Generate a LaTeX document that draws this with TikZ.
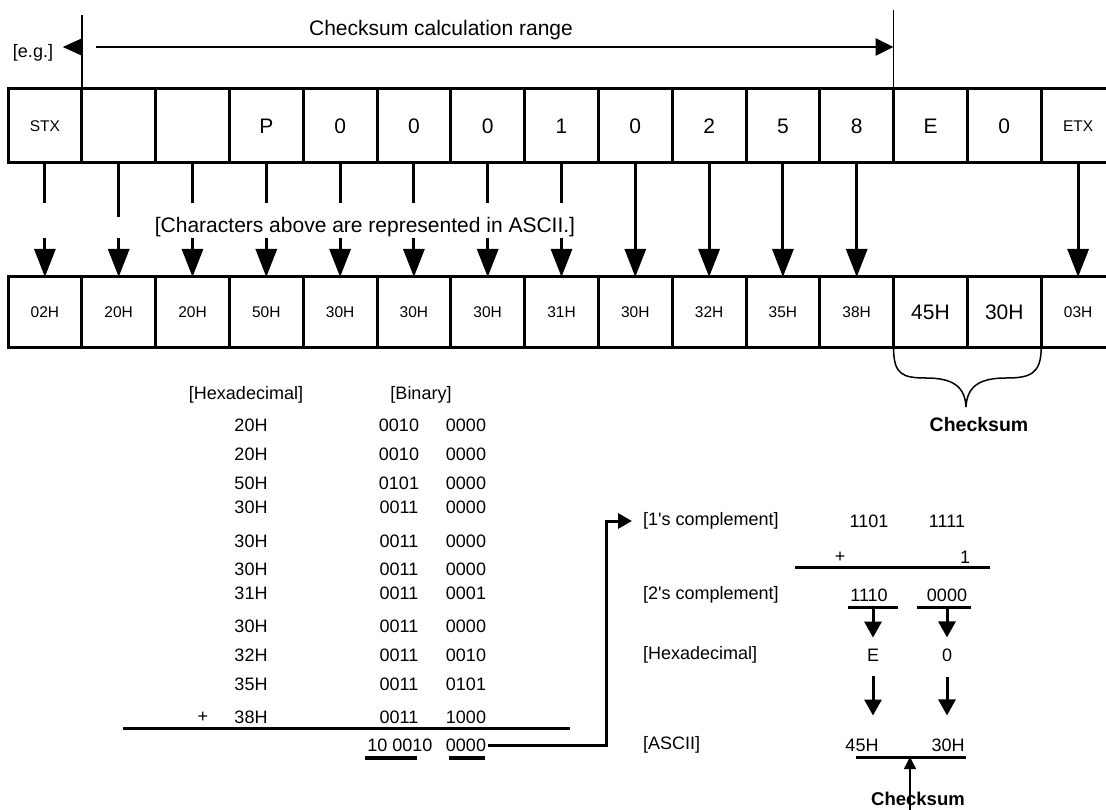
\documentclass[tikz,border=0pt]{standalone}
\usepackage{fontspec}
\setmainfont{Liberation Sans}
\usetikzlibrary{arrows.meta}
\usetikzlibrary{positioning}

\begin{document}
\begin{tikzpicture}[x=1pt, y=-1pt, node distance=0pt]
\tikzstyle{cell} = [rectangle, draw = black, line width=3pt, minimum width=73.8pt, minimum height=74pt, inner sep=0pt, outer sep=0pt, font=\fontsize{21}{25}\selectfont]
\tikzstyle{bcell} = [cell, minimum height=71pt, font=\fontsize{15.5}{18}\selectfont]
\tikzstyle{ctl} = [font=\fontsize{15.5}{18}\selectfont]
\tikzstyle{big} = [font=\fontsize{21}{25}\selectfont]
\tikzstyle{lbl} = [inner sep=2pt, font=\fontsize{18}{21}\selectfont]
\tikzstyle{heavy} = [inner sep=1pt, font=\fontsize{19.5}{22}\selectfont\bfseries]
\tikzstyle{shaft} = [line width=3pt]
\tikzstyle{down} = [line width=3pt, -{Triangle[length=28pt, width=21pt]}]
\tikzstyle{small} = [line width=3pt, -{Triangle[length=16pt, width=17pt]}]
\tikzstyle{rule} = [line width=3pt]
\useasboundingbox (0,0) rectangle (1106,810);

% frame as sent
\node (t1) [cell, ctl] at (44.9,126) {STX};
\node (t2) [cell, right = of t1] {};
\node (t3) [cell, right = of t2] {};
\node (t4) [cell, right = of t3] {P};
\node (t5) [cell, right = of t4] {0};
\node (t6) [cell, right = of t5] {0};
\node (t7) [cell, right = of t6] {0};
\node (t8) [cell, right = of t7] {1};
\node (t9) [cell, right = of t8] {0};
\node (t10) [cell, right = of t9] {2};
\node (t11) [cell, right = of t10] {5};
\node (t12) [cell, right = of t11] {8};
\node (t13) [cell, right = of t12] {E};
\node (t14) [cell, right = of t13] {0};
\node (t15) [cell, ctl, right = of t14] {ETX};

% same frame in ASCII codes
\node (b1) [bcell] at (44.9,312.5) {02H};
\node (b2) [bcell, right = of b1] {20H};
\node (b3) [bcell, right = of b2] {20H};
\node (b4) [bcell, right = of b3] {50H};
\node (b5) [bcell, right = of b4] {30H};
\node (b6) [bcell, right = of b5] {30H};
\node (b7) [bcell, right = of b6] {30H};
\node (b8) [bcell, right = of b7] {31H};
\node (b9) [bcell, right = of b8] {30H};
\node (b10) [bcell, right = of b9] {32H};
\node (b11) [bcell, right = of b10] {35H};
\node (b12) [bcell, right = of b11] {38H};
\node (b13) [bcell, big, right = of b12] {45H};
\node (b14) [bcell, big, right = of b13] {30H};
\node (b15) [bcell, right = of b14] {03H};

% calculation range
\coordinate (rangey) at (0,47);
\coordinate (rangeL) at ([xshift=14pt]t1.north east);
\draw[line width=1.5pt] (t1.north east) -- ++(0,-74);
\draw[line width=1.5pt] (t12.north east) -- ++(0,-79);
\draw[line width=2.5pt, -{Triangle[length=18pt, width=17pt]}] (rangeL |- rangey) -- (t12.north east |- rangey);
\draw[line width=1pt, -{Triangle[length=19pt, width=17pt]}] (t1.north east |- rangey) -- ++(-19,0);
\node (range) [big] at (441,30) {Checksum calculation range};
\node (eg) [lbl] at (33,53) {[e.g.]};

% arrows between the rows
\coordinate (stubend) at (0,203);
\coordinate (stublong) at (0,217);
\coordinate (tipstart) at (0,238);
\draw[shaft] (t1) -- (t1 |- stubend);
\draw[shaft] (t2) -- (t2 |- stublong);
\draw[shaft] (t3) -- (t3 |- stubend);
\draw[shaft] (t4) -- (t4 |- stubend);
\draw[shaft] (t5) -- (t5 |- stubend);
\draw[shaft] (t6) -- (t6 |- stubend);
\draw[shaft] (t7) -- (t7 |- stubend);
\draw[shaft] (t8) -- (t8 |- stubend);
\draw[down] (b1 |- tipstart) -- (b1);
\draw[down] (b2 |- tipstart) -- (b2);
\draw[down] (b3 |- tipstart) -- (b3);
\draw[down] (b4 |- tipstart) -- (b4);
\draw[down] (b5 |- tipstart) -- (b5);
\draw[down] (b6 |- tipstart) -- (b6);
\draw[down] (b7 |- tipstart) -- (b7);
\draw[down] (b8 |- tipstart) -- (b8);
\draw[down] (t9) -- (b9);
\draw[down] (t10) -- (b10);
\draw[down] (t11) -- (b11);
\draw[down] (t12) -- (b12);
\draw[down] (t15) -- (b15);
\node (note) [big] at (365,227) {[Characters above are represented in ASCII.]};

% brace under the checksum
\coordinate (bracetip) at (966,407);
\draw[line width=1.5pt] (b13.south west) .. controls +(0,26) and (902,378) .. (926,378) .. controls (952,378) and (965,386) .. (bracetip) .. controls (967,386) and (980,378) .. (1006,378) .. controls (1030,378) and (1041,374) .. (b14.south east);
\node (ck1) [heavy] at (979,425) {Checksum};

% sum of the range
\node (hexhead) [lbl] at (246,395) {[Hexadecimal]};
\node (binhead) [lbl] at (421,395) {[Binary]};
\node (h1) [lbl] at (251,425) {20H}; \node (ba1) [lbl] at (399,425) {0010}; \node (bb1) [lbl] at (466,425) {0000};
\node (h2) [lbl] at (251,454) {20H}; \node (ba2) [lbl] at (399,454) {0010}; \node (bb2) [lbl] at (466,454) {0000};
\node (h3) [lbl] at (251,483) {50H}; \node (ba3) [lbl] at (399,483) {0101}; \node (bb3) [lbl] at (466,483) {0000};
\node (h4) [lbl] at (251,507) {30H}; \node (ba4) [lbl] at (399,507) {0011}; \node (bb4) [lbl] at (466,507) {0000};
\node (h5) [lbl] at (251,541) {30H}; \node (ba5) [lbl] at (399,541) {0011}; \node (bb5) [lbl] at (466,541) {0000};
\node (h6) [lbl] at (251,569) {30H}; \node (ba6) [lbl] at (399,569) {0011}; \node (bb6) [lbl] at (466,569) {0000};
\node (h7) [lbl] at (251,593) {31H}; \node (ba7) [lbl] at (399,593) {0011}; \node (bb7) [lbl] at (466,593) {0001};
\node (h8) [lbl] at (251,626) {30H}; \node (ba8) [lbl] at (399,626) {0011}; \node (bb8) [lbl] at (466,626) {0000};
\node (h9) [lbl] at (251,655) {32H}; \node (ba9) [lbl] at (399,655) {0011}; \node (bb9) [lbl] at (466,655) {0010};
\node (h10) [lbl] at (251,684) {35H}; \node (ba10) [lbl] at (399,684) {0011}; \node (bb10) [lbl] at (466,684) {0101};
\node (h11) [lbl] at (251,717) {38H}; \node (ba11) [lbl] at (399,717) {0011}; \node (bb11) [lbl] at (466,717) {1000};
\node (plus1) [lbl] at (203,717) {+};
\draw[rule] (123,728) -- (570,728);
\node (res1) [lbl] at (400,745) {10 0010};
\node (res2) [lbl] at (466,745) {0000};
\draw[line width=4pt] (365,758) -- (417,758);
\draw[line width=4pt] (449,758) -- (485,758);

% complement and conversion
\node (ones) [lbl, anchor=west] at (641,521) {[1\textquotesingle s complement]};
\node (oneA) [lbl] at (869,521) {1101};
\node (oneB) [lbl] at (947,521) {1111};
\node (plus2) [lbl] at (840,557) {+};
\node (one) [lbl] at (965,557) {1};
\draw[rule] (795,567) -- (990,567);
\node (twos) [lbl, anchor=west] at (641,595) {[2\textquotesingle s complement]};
\node (twoA) [lbl] at (869,595) {1110};
\node (twoB) [lbl] at (947,595) {0000};
\draw[rule] (848,607) -- (898,607);
\draw[rule] (917,607) -- (971,607);
\node (hexs) [lbl, anchor=west] at (641,655) {[Hexadecimal]};
\node (hexE) [lbl] at (873,655) {E};
\node (hex0) [lbl] at (947,655) {0};
\node (ascs) [lbl, anchor=west] at (641,745) {[ASCII]};
\node (ascA) [lbl] at (862,745) {45H};
\node (ascB) [lbl] at (948,745) {30H};
\draw[rule] (856,757) -- (966,757);
\node (ck2) [heavy, font=\fontsize{18.5}{21}\selectfont\bfseries] at (918,799) {Checksum};

\coordinate (turn) at (606,630);
\coordinate (ul) at (0,607);
\coordinate (sumpt) at (910,757);
\coordinate (bottom) at (0,810);
\draw[line width=3pt, -{Triangle[length=14pt, width=15pt]}, shorten >=9pt] (res2.east) -| (turn) |- (ones.west);
\draw[small, shorten >=9pt] (hexE |- ul) -- (hexE);
\draw[small, shorten >=9pt] (hex0 |- ul) -- (hex0);
\draw[small, shorten <=13pt, shorten >=21pt] (hexE) -- (hexE |- ascA.north);
\draw[small, shorten <=13pt, shorten >=21pt] (hex0) -- (hex0 |- ascB.north);
\draw[line width=1.5pt, -{Triangle[length=12pt, width=12pt]}] (sumpt |- bottom) -- (sumpt);
\end{tikzpicture}
\end{document}
